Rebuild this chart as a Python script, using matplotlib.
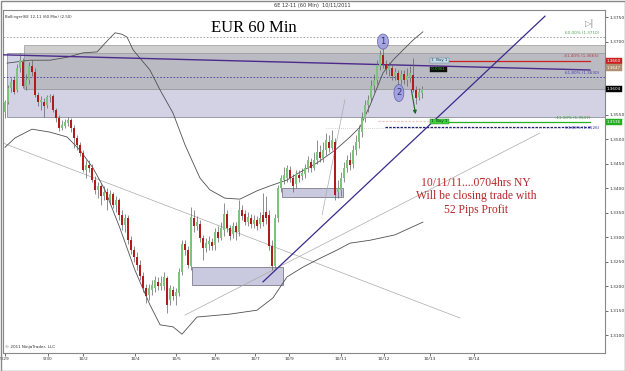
import matplotlib
matplotlib.use("Agg")
import matplotlib.pyplot as plt
from matplotlib.patches import Rectangle, Ellipse, FancyArrowPatch

# 60 min candles
opens = [1.3556, 1.3577, 1.3605, 1.3621, 1.3601, 1.3646, 1.3658, 1.3609, 1.3621, 1.3650,
         1.3638, 1.3591, 1.3577, 1.3577, 1.3570, 1.3587, 1.3589, 1.3560, 1.3544, 1.3523,
         1.3527, 1.3534, 1.3540, 1.3523, 1.3503, 1.3489, 1.3472, 1.3437, 1.3448, 1.3442,
         1.3417, 1.3397, 1.3405, 1.3384, 1.3393, 1.3376, 1.3388, 1.3366, 1.3376, 1.3346,
         1.3325, 1.3339, 1.3294, 1.3274, 1.3260, 1.3243, 1.3221, 1.3196, 1.3182, 1.3192,
         1.3196, 1.3209, 1.3200, 1.3200, 1.3217, 1.3172, 1.3192, 1.3180, 1.3186, 1.3229,
         1.3286, 1.3274, 1.3241, 1.3339, 1.3323, 1.3327, 1.3299, 1.3278, 1.3286, 1.3290,
         1.3284, 1.3311, 1.3299, 1.3315, 1.3348, 1.3319, 1.3307, 1.3323, 1.3311, 1.3356,
         1.3348, 1.3331, 1.3339, 1.3327, 1.3335, 1.3327, 1.3346, 1.3352, 1.3346, 1.3282,
         1.3241, 1.3339, 1.3401, 1.3417, 1.3421, 1.3437, 1.3421, 1.3409, 1.3427, 1.3425,
         1.3429, 1.3442, 1.3454, 1.3442, 1.3458, 1.3474, 1.3462, 1.3478, 1.3495, 1.3482,
         1.3495, 1.3393, 1.3397, 1.3421, 1.3442, 1.3458, 1.3450, 1.3478, 1.3495, 1.3515,
         1.3544, 1.3570, 1.3585, 1.3609, 1.3621, 1.3650, 1.3673, 1.3654, 1.3642, 1.3646,
         1.3630, 1.3636, 1.3621, 1.3634, 1.3621, 1.3626, 1.3632, 1.3601, 1.3587, 1.3595]
highs = [1.3581, 1.3611, 1.3626, 1.3630, 1.3654, 1.3677, 1.3666, 1.3634, 1.3658, 1.3662,
         1.3646, 1.3597, 1.3589, 1.3585, 1.3591, 1.3593, 1.3593, 1.3564, 1.3550, 1.3540,
         1.3542, 1.3546, 1.3544, 1.3530, 1.3509, 1.3495, 1.3478, 1.3458, 1.3458, 1.3450,
         1.3425, 1.3413, 1.3409, 1.3405, 1.3401, 1.3397, 1.3393, 1.3384, 1.3380, 1.3356,
         1.3348, 1.3346, 1.3303, 1.3282, 1.3270, 1.3254, 1.3229, 1.3205, 1.3205, 1.3213,
         1.3221, 1.3219, 1.3221, 1.3229, 1.3221, 1.3203, 1.3200, 1.3196, 1.3237, 1.3294,
         1.3294, 1.3282, 1.3362, 1.3356, 1.3343, 1.3335, 1.3305, 1.3299, 1.3303, 1.3299,
         1.3319, 1.3323, 1.3331, 1.3370, 1.3356, 1.3325, 1.3331, 1.3331, 1.3376, 1.3366,
         1.3356, 1.3352, 1.3348, 1.3346, 1.3343, 1.3352, 1.3391, 1.3384, 1.3356, 1.3294,
         1.3348, 1.3407, 1.3427, 1.3444, 1.3448, 1.3446, 1.3429, 1.3437, 1.3437, 1.3442,
         1.3450, 1.3466, 1.3462, 1.3474, 1.3499, 1.3489, 1.3495, 1.3513, 1.3509, 1.3519,
         1.3503, 1.3417, 1.3433, 1.3454, 1.3468, 1.3474, 1.3489, 1.3509, 1.3530, 1.3556,
         1.3581, 1.3591, 1.3621, 1.3634, 1.3662, 1.3683, 1.3687, 1.3662, 1.3658, 1.3654,
         1.3646, 1.3642, 1.3642, 1.3642, 1.3646, 1.3650, 1.3666, 1.3609, 1.3605, 1.3609]
lows = [1.3544, 1.3572, 1.3597, 1.3593, 1.3597, 1.3638, 1.3605, 1.3601, 1.3613, 1.3630,
        1.3587, 1.3568, 1.3560, 1.3546, 1.3564, 1.3577, 1.3556, 1.3536, 1.3517, 1.3519,
        1.3523, 1.3527, 1.3515, 1.3482, 1.3478, 1.3466, 1.3433, 1.3421, 1.3433, 1.3413,
        1.3388, 1.3380, 1.3366, 1.3376, 1.3356, 1.3368, 1.3360, 1.3352, 1.3335, 1.3315,
        1.3311, 1.3286, 1.3266, 1.3250, 1.3233, 1.3213, 1.3188, 1.3166, 1.3172, 1.3182,
        1.3188, 1.3192, 1.3192, 1.3192, 1.3145, 1.3162, 1.3172, 1.3162, 1.3180, 1.3223,
        1.3264, 1.3237, 1.3233, 1.3311, 1.3315, 1.3290, 1.3254, 1.3270, 1.3274, 1.3274,
        1.3274, 1.3290, 1.3294, 1.3303, 1.3311, 1.3294, 1.3299, 1.3294, 1.3303, 1.3335,
        1.3325, 1.3323, 1.3319, 1.3319, 1.3315, 1.3319, 1.3323, 1.3327, 1.3274, 1.3233,
        1.3237, 1.3331, 1.3393, 1.3409, 1.3413, 1.3413, 1.3393, 1.3401, 1.3413, 1.3417,
        1.3421, 1.3433, 1.3433, 1.3437, 1.3450, 1.3454, 1.3454, 1.3468, 1.3474, 1.3478,
        1.3376, 1.3380, 1.3384, 1.3413, 1.3433, 1.3437, 1.3442, 1.3468, 1.3482, 1.3505,
        1.3536, 1.3556, 1.3577, 1.3597, 1.3613, 1.3642, 1.3646, 1.3634, 1.3630, 1.3621,
        1.3621, 1.3613, 1.3613, 1.3613, 1.3609, 1.3617, 1.3597, 1.3572, 1.3581, 1.3585]
closes = [1.3577, 1.3605, 1.3617, 1.3597, 1.3646, 1.3662, 1.3609, 1.3621, 1.3650, 1.3638,
          1.3591, 1.3577, 1.3581, 1.3568, 1.3587, 1.3589, 1.3560, 1.3544, 1.3523, 1.3530,
          1.3536, 1.3540, 1.3523, 1.3503, 1.3489, 1.3472, 1.3437, 1.3448, 1.3442, 1.3417,
          1.3397, 1.3405, 1.3384, 1.3393, 1.3376, 1.3388, 1.3366, 1.3376, 1.3346, 1.3325,
          1.3339, 1.3294, 1.3274, 1.3260, 1.3243, 1.3221, 1.3196, 1.3180, 1.3196, 1.3203,
          1.3213, 1.3200, 1.3207, 1.3219, 1.3162, 1.3196, 1.3180, 1.3188, 1.3229, 1.3286,
          1.3274, 1.3243, 1.3341, 1.3323, 1.3331, 1.3299, 1.3278, 1.3288, 1.3292, 1.3282,
          1.3311, 1.3299, 1.3319, 1.3348, 1.3319, 1.3303, 1.3323, 1.3311, 1.3356, 1.3343,
          1.3331, 1.3341, 1.3327, 1.3335, 1.3323, 1.3339, 1.3331, 1.3339, 1.3282, 1.3241,
          1.3339, 1.3401, 1.3421, 1.3427, 1.3442, 1.3421, 1.3405, 1.3429, 1.3421, 1.3431,
          1.3442, 1.3458, 1.3442, 1.3458, 1.3474, 1.3462, 1.3478, 1.3499, 1.3482, 1.3499,
          1.3386, 1.3401, 1.3421, 1.3442, 1.3458, 1.3448, 1.3478, 1.3495, 1.3519, 1.3544,
          1.3570, 1.3581, 1.3609, 1.3621, 1.3652, 1.3673, 1.3654, 1.3644, 1.3650, 1.3630,
          1.3638, 1.3621, 1.3634, 1.3621, 1.3630, 1.3636, 1.3601, 1.3585, 1.3597, 1.3603]

# bollinger (2.50) bands, sampled points (bar, price)
upper_x = [0.7, 8.3, 15, 20.7, 26, 30.7, 34.3, 36.7, 39, 40.7, 42.7, 45, 48.3, 51.7, 56, 60,
           62.7, 65, 68.3, 73.3, 78.3, 84, 88.3, 94, 98.3, 104, 110, 115, 118.3, 121.7, 126,
           129.3, 132.7, 136, 139.3]
upper_y = [1.3656, 1.3662, 1.3662, 1.3668, 1.3677, 1.3679, 1.3703, 1.3718, 1.3715, 1.3709,
           1.3683, 1.3666, 1.3642, 1.3601, 1.3554, 1.3489, 1.3452, 1.3421, 1.3397, 1.3380,
           1.3378, 1.3395, 1.3405, 1.3417, 1.3433, 1.3452, 1.3478, 1.3505, 1.3525, 1.3570,
           1.3636, 1.3662, 1.3683, 1.3703, 1.3720]
lower_x = [0, 3.3, 9, 15, 20.7, 25, 29.3, 33.3, 38.3, 43.3, 48.3, 51.7, 56, 59, 64, 75, 84,
           89.3, 94, 99.3, 104, 110.7, 115, 121.7, 130, 135, 139.3]
lower_y = [1.3484, 1.3503, 1.3521, 1.3515, 1.3505, 1.3478, 1.3442, 1.3397, 1.3319, 1.3233,
           1.3162, 1.3121, 1.3117, 1.3102, 1.3137, 1.3143, 1.3151, 1.3176, 1.3219, 1.3239,
           1.3254, 1.3274, 1.3288, 1.3294, 1.3305, 1.3319, 1.3331]

day_pos = [0, 14.3, 26, 43.3, 57, 70, 83.3, 94.7, 112, 126.3, 141.7, 156.3]
day_labels = ["9/29", "9/30", "10/2", "10/4", "10/5", "10/6", "10/7", "10/9",
              "10/11", "10/12", "10/13", "10/14"]

W, H = 625, 371
fig = plt.figure(figsize=(W / 100, H / 100), dpi=100)
fig.patch.set_facecolor("white")
ax = fig.add_axes([3 / W, 18 / H, 602 / W, 343 / H])
ax.set_xlim(-0.67, 200)
ax.set_ylim(1.30635, 1.37646)

# zones
ax.add_patch(Rectangle((0.7, 1.3546), 199.3, 0.0131, facecolor="#c4c4dc", edgecolor="#707080",
                       lw=0.6, alpha=0.75, zorder=1))
ax.add_patch(Rectangle((6.3, 1.3603), 193.7, 0.0090, facecolor="#a8a8a8", edgecolor="#707070",
                       lw=0.6, alpha=0.55, zorder=1))
ax.add_patch(Rectangle((62.3, 1.3203), 30.4, 0.0036, facecolor="#c4c4dc", edgecolor="#707080",
                       lw=0.6, alpha=0.9, zorder=1))
ax.add_patch(Rectangle((92.3, 1.3382), 20.4, 0.0019, facecolor="#c4c4dc", edgecolor="#707080",
                       lw=0.6, alpha=0.9, zorder=1))

# fib / order lines
ax.axhline(1.3709, color="#999999", lw=0.6, ls=(0, (2, 2)), zorder=2)
ax.axhline(1.3628, color="#4040a0", lw=0.6, ls=(0, (2, 2)), zorder=2)
ax.plot([141.7, 195], [1.3660, 1.3660], color="#cc2020", lw=0.9, zorder=3)
ax.plot([141.7, 195], [1.3536, 1.3536], color="#20b020", lw=0.9, zorder=3)
ax.plot([124.3, 141.7], [1.3538, 1.3538], color="#f0c8c8", lw=0.9, ls=(0, (2, 1)), zorder=3)
ax.plot([126.7, 195], [1.3526, 1.3526], color="#202070", lw=0.9, ls=(0, (2, 1)), zorder=3)
ax.plot([107, 185], [1.3523, 1.3523], color="#aaaaaa", lw=0.5, ls=(0, (1, 2)), zorder=2)

# trend lines
ax.plot([-0.67, 195], [1.3673, 1.3642], color="#4b2a8c", lw=1.0, zorder=4)
ax.plot([86, 180], [1.3209, 1.3752], color="#3a2a8c", lw=0.9, zorder=4)
ax.plot([-1.67, 151.7], [1.3495, 1.3135], color="#aaaaaa", lw=0.5, zorder=2)
ax.plot([60, 178.3], [1.3141, 1.3513], color="#aaaaaa", lw=0.5, zorder=2)
ax.plot([105.7, 113.3], [1.3346, 1.3581], color="#aaaaaa", lw=0.5, zorder=2)

# bands
ax.plot(upper_x, upper_y, color="#505050", lw=0.6, zorder=3)
ax.plot(lower_x, lower_y, color="#505050", lw=0.6, zorder=3)

# candles
idx = list(range(len(closes)))
up = [c >= o for o, c in zip(opens, closes)]
ax.vlines(idx, lows, highs, color="#606060", lw=0.5, zorder=5)
bottoms = [min(o, c) for o, c in zip(opens, closes)]
heights = [max(abs(c - o), 0.00012) for o, c in zip(opens, closes)]
colors = ["#7cc47c" if u else "#b01c1c" for u in up]
ax.bar(idx, heights, bottom=bottoms, width=0.7, color=colors, edgecolor="none", zorder=6)

# markers
ax.add_patch(Ellipse((126, 1.3700), 3.7, 0.0031, facecolor="#9a9ae0", edgecolor="#5050a0",
                     lw=0.5, alpha=0.85, zorder=7))
ax.text(126, 1.3700, "1", ha="center", va="center", fontsize=6, color="#303070", zorder=8)
ax.add_patch(Ellipse((131.3, 1.3595), 3.3, 0.0035, facecolor="#9a9ae0", edgecolor="#5050a0",
                     lw=0.5, alpha=0.85, zorder=7))
ax.text(131.3, 1.3595, "2", ha="center", va="center", fontsize=6, color="#303070", zorder=8)
ax.add_patch(FancyArrowPatch((135.3, 1.3607), (137, 1.3546), arrowstyle="-|>", mutation_scale=5,
                             color="#1a6a1a", lw=0.8, zorder=8))

# order tags
ax.text(141.7, 1.3662, " 1  Buy 1 ", fontsize=2.8, color="#203040", va="center", zorder=9,
        bbox=dict(boxstyle="square,pad=0.15", fc="#c0dce8", ec="#6080a0", lw=0.3))
ax.text(141.7, 1.3643, " 0.0061 ", fontsize=2.8, color="#20c020", va="center", zorder=9,
        bbox=dict(boxstyle="square,pad=0.15", fc="#101010", ec="#101010", lw=0.3))
ax.text(141.7, 1.3537, " 1  Buy 1 ", fontsize=2.8, color="#103010", va="center", zorder=9,
        bbox=dict(boxstyle="square,pad=0.15", fc="#40d040", ec="#208020", lw=0.3))

# fib labels
ax.text(198, 1.3713, "60.00% (1.3710)", fontsize=3, color="#50a050", ha="right", va="bottom")
ax.text(198, 1.3667, "-61.40% (1.3665)", fontsize=3, color="#b04040", ha="right", va="bottom")
ax.text(198, 1.3632, "61.80% (1.3630)", fontsize=3, color="#4040b0", ha="right", va="bottom")
ax.text(195, 1.3540, "-11.10% (1.3537)", fontsize=3, color="#30a030", ha="right", va="bottom")
ax.text(198, 1.3520, "63.80% (1.3526)", fontsize=3, color="#3030b0", ha="right", va="bottom")

# headings
ax.text(83, 1.3727, "EUR 60 Min", fontsize=12, family="Liberation Serif", ha="center",
        va="center", color="black", zorder=9)
ax.text(157, 1.3384, "10/11/11....0704hrs NY\nWill be closing trade with\n52 Pips Profit",
        fontsize=8.4, family="Liberation Serif", ha="center", va="center", color="#b8262a",
        linespacing=1.15, zorder=9)
ax.text(0.003, 0.985, "Bollinger(6E 12-11 (60 Min) (2.50)", transform=ax.transAxes, fontsize=2.8,
        color="#333333", va="top")
ax.text(0.003, 0.012, "\u00a9 2011 NinjaTrader, LLC", transform=ax.transAxes, fontsize=3,
        color="#333333", va="bottom")
fig.text(0.5, 1 - 5 / H, "6E 12-11 (60 Min)  10/11/2011", fontsize=3.6, ha="center",
         va="center", color="#333333")
ax.text(0.975, 0.96, "\u25b7|", transform=ax.transAxes, fontsize=6, color="#888888",
        ha="center", va="center")

# axes; 1.3650 and 1.3600 sit under the price tags
ax.yaxis.tick_right()
yt = [1.31 + 0.005 * k for k in range(14)]
ax.set_yticks(yt)
ax.set_yticklabels(["" if abs(v - 1.365) < 1e-6 or abs(v - 1.36) < 1e-6 else "%.4f" % v
                    for v in yt])
ax.set_xticks(day_pos)
ax.set_xticklabels(day_labels)
ax.tick_params(axis="both", labelsize=3.2, colors="#333333", length=2, width=0.5, pad=1)
for s in ax.spines.values():
    s.set_color("#888888")
    s.set_linewidth(0.8)

# right price tags
tags = [(1.3660, "1.3660", "#cc2020", "white"), (1.3647, "1.3647", "#b09070", "white"),
        (1.3604, "1.3604", "#000000", "white"), (1.3536, "1.3536", "#20b020", "white")]
for p, t, fc, tc in tags:
    ax.text(1.003, p, t, transform=ax.get_yaxis_transform(), fontsize=3, color=tc,
            va="center", ha="left", clip_on=False, zorder=10,
            bbox=dict(boxstyle="square,pad=0.25", fc=fc, ec=fc, lw=0.3))

fig.add_artist(Rectangle((0.5 / W, 0.5 / H), 1 - 1 / W, 1 - 1 / H, transform=fig.transFigure,
                         fill=False, ec="#888888", lw=1.0))

fig.savefig("out.png", dpi=100)
